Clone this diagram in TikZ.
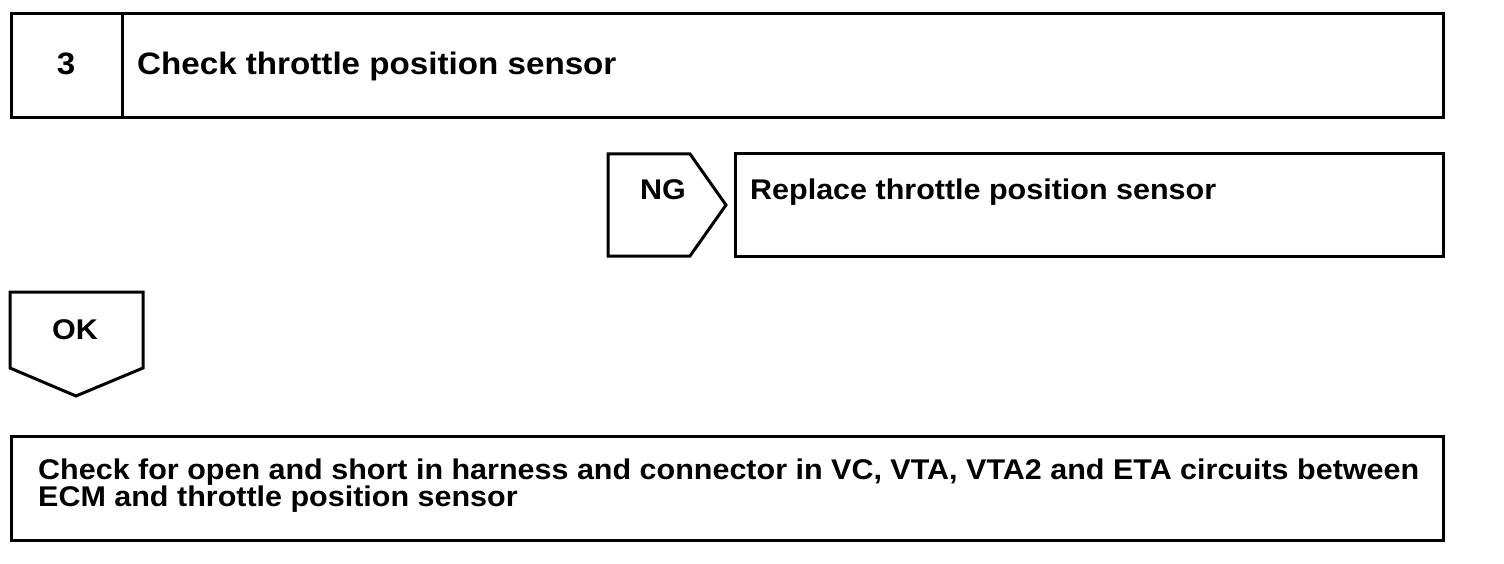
\documentclass[tikz,border=0pt]{standalone}
\usepackage{fontspec}
\setmainfont{Liberation Sans}[FakeStretch=1.07]
\begin{document}
\begin{tikzpicture}[x=1pt,y=-1pt]

% definitions
\tikzstyle{stepbox} = [rectangle, draw=black, line width=3pt, inner sep=0pt]
\tikzstyle{flag} = [draw=black, line width=3pt, line join=miter]
\tikzstyle{steptext} = [inner sep=0pt, font=\bfseries\fontsize{31}{33}\selectfont]
\tikzstyle{flagtext} = [inner sep=0pt, font=\bfseries\fontsize{28.5}{30}\selectfont]
\tikzstyle{longtext} = [inner sep=0pt, align=left, font=\bfseries\fontsize{28.5}{27}\selectfont]

\useasboundingbox (0,0) rectangle (1504,564);

% the chart
\node (s3) [stepbox, minimum width=1432pt, minimum height=104pt] at (727,66) {};
\draw [flag] (122,14) -- (122,118);
\node (n3) [steptext, anchor=base] at (66,75) {3};
\node (t3) [steptext, anchor=base west] at (137,75) {Check throttle position sensor};

\draw [flag] (608,154) -- (690,154) -- (726,205) -- (690,256) -- (608,256) -- cycle;
\node (ng) [flagtext, anchor=base] at (663,200) {NG};
\node (rep) [stepbox, minimum width=708pt, minimum height=102pt] at (1089,205) {};
\node (trep) [flagtext, anchor=base west] at (750,200) {Replace throttle position sensor};

\draw [flag] (10,292) -- (143,292) -- (143,368) -- (76,396) -- (10,368) -- cycle;
\node (ok) [flagtext, anchor=base] at (75,339) {OK};

\node (s4) [stepbox, minimum width=1432pt, minimum height=104pt] at (727,488) {};
\node (t4) [longtext, anchor=base west] at (38,506) {Check for open and short in harness and connector in VC, VTA, VTA2 and ETA circuits between\\ECM and throttle position sensor};

\end{tikzpicture}
\end{document}
